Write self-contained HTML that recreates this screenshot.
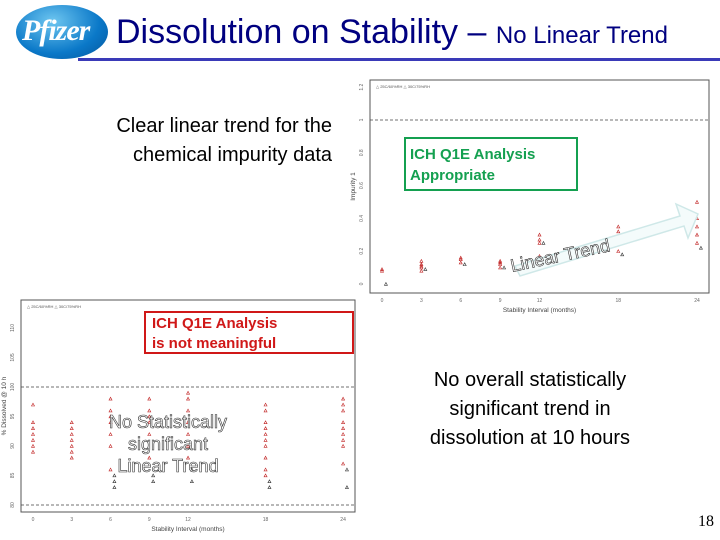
<!DOCTYPE html>
<html><head><meta charset="utf-8"><style>
body{margin:0;width:720px;height:540px;background:#fff;overflow:hidden;font-family:"Liberation Sans",sans-serif;position:relative}
.a{position:absolute}
</style></head><body>
<div class="a" style="left:16px;top:5px;width:92px;height:54px;border-radius:50%;background:radial-gradient(ellipse at 40% 30%,#6ec6f0,#0a78c8 60%,#05559a);"></div>
<div class="a" style="left:22px;top:14px;color:#fff;font:italic bold 30px 'Liberation Serif',serif;letter-spacing:-1px">Pfizer</div>
<div class="a" style="left:116px;top:12px;color:#000080;font-size:34px;white-space:nowrap;line-height:40px">Dissolution on Stability – <span style="font-size:24px">No Linear Trend</span></div>
<div class="a" style="left:78px;top:58px;width:642px;height:3px;background:#3a3ab8"></div>
<div class="a" style="left:40px;top:112px;width:292px;text-align:right;font-size:20px;line-height:29px;color:#000">Clear linear trend for the chemical impurity data</div>
<div class="a" style="left:400px;top:366px;width:260px;text-align:center;font-size:20px;line-height:29px;color:#000">No overall statistically significant trend in dissolution at 10 hours</div>
<div class="a" style="left:698px;top:513px;font:16px 'Liberation Serif',serif">18</div>
<svg class="a" style="left:0;top:0" width="720" height="540" id="svg"></svg>
<script>
const months=[0,3,6,9,12,18,24];
const impTicks=[0,0.2,0.4,0.6,0.8,1.0,1.2];
const impRed=[[0.08,0.09],[0.08,0.1,0.11,0.12,0.14],[0.13,0.15,0.16],[0.1,0.12,0.13,0.14],[0.17,0.25,0.27,0.3],[0.2,0.25,0.28,0.32,0.35],[0.25,0.3,0.35,0.4,0.5]];
const impBlack=[[0],[0.09],[0.12],[0.1],[0.25],[0.18],[0.22]];
const disTicks=[80,85,90,95,100,105,110];
const disRed=[[97,94,93,92,91,90,89],[94,93,92,91,90,89,88],[98,96,95,94,92,90,86],[98,96,95,94,92,88],[99,98,96,94,92,90,88],[97,96,94,93,92,91,90,88,86,85],[98,97,96,94,93,92,91,90,87]];
const disBlack=[[],[],[83,84,85],[84,85],[86,84],[84,83],[83,86]];
const NS='http://www.w3.org/2000/svg',svg=document.getElementById('svg');
function mk(t,a,txt){const e=document.createElementNS(NS,t);for(const k in a)e.setAttribute(k,a[k]);if(txt!=null)e.textContent=txt;svg.appendChild(e);return e;}
function chart(box,x0,xm,y0,y1,v0,v1,ticks,red,black,ylab,dashed,nm){
 const X=m=>x0+m*xm, Y=v=>y0+(v-v0)/(v1-v0)*(y1-y0);
 let e=mk('rect',{x:box[0],y:box[1],width:box[2],height:box[3],fill:'none',stroke:'#555','stroke-width':1});
 
 ticks.forEach(t=>{e=mk('text',{x:box[0]-7,y:Y(t),'font-size':5,fill:'#666','text-anchor':'middle',transform:`rotate(-90 ${box[0]-7} ${Y(t)})`},String(t));
 });
 months.forEach(m=>{e=mk('text',{x:X(m),y:box[1]+box[3]+9,'font-size':5,fill:'#666','text-anchor':'middle'},String(m));
 });
 dashed.forEach(d=>{e=mk('line',{x1:box[0],x2:box[0]+box[2],y1:Y(d),y2:Y(d),stroke:'#444','stroke-dasharray':'3,2','stroke-width':0.8});
 });
 const tri=(m,v,c)=>{const x=X(m),y=Y(v);e=mk('path',{d:`M${x-1.5} ${y+1.3}L${x+1.5} ${y+1.3}L${x} ${y-1.5}Z`,fill:'none',stroke:c,'stroke-width':0.6});
 };
 red.forEach((a,i)=>a.forEach(v=>tri(months[i],v,'#c02020')));
 black.forEach((a,i)=>a.forEach(v=>tri(months[i]+0.3,v,'#333')));
 e=mk('text',{x:box[0]+box[2]/2,y:box[1]+box[3]+19,'font-size':6.5,fill:'#444','text-anchor':'middle'},'Stability Interval (months)');
 
 e=mk('text',{x:box[0]-15,y:box[1]+box[3]/2,'font-size':6.5,fill:'#444','text-anchor':'middle',transform:`rotate(-90 ${box[0]-15} ${box[1]+box[3]/2})`},ylab);
 
 e=mk('text',{x:box[0]+6,y:box[1]+8,'font-size':4,fill:'#555'},'△ 25C/60%RH  △ 30C/75%RH');
 
}
chart([370,80,339,213],382,13.125,284,120,0,1.0,impTicks,impRed,impBlack,'Impurity 1',[1.0],'impurity');
chart([21,300,334,212],33,12.92,505,387,80,100,disTicks,disRed,disBlack,'% Dissolved @ 10 h',[100,80],'dissolution');
let e=mk('path',{d:'M515 266 L680 216 L676 204 L698 214 L688 238 L684 226 L520 276 Z',fill:'#f4fbfb',stroke:'#cfe8e8','stroke-width':1.5});

e=mk('text',{x:512,y:272,'font-size':18,fill:'#fff',stroke:'#333','stroke-width':0.6,transform:'rotate(-12 512 272)'},'Linear Trend');

[['No  Statistically',428],['significant',450],['Linear Trend',472]].forEach(([t,y])=>{e=mk('text',{x:168,y:y,'font-size':18,fill:'#fff',stroke:'#333','stroke-width':0.6,'text-anchor':'middle'},t);
});
</script>
<div class="a" style="left:404px;top:137px;width:174px;height:54px;border:2px solid #14a050;background:#fff;color:#14a050;font-weight:bold;font-size:15px;line-height:21px;padding:5px 0 0 4px;box-sizing:border-box;white-space:nowrap">ICH Q1E Analysis<br>Appropriate</div>
<div class="a" style="left:144px;top:311px;width:210px;height:43px;border:2px solid #d01818;background:#fff;color:#d01818;font-weight:bold;font-size:15px;line-height:20px;padding:1px 0 0 6px;box-sizing:border-box;white-space:nowrap">ICH Q1E Analysis<br>is not meaningful</div>
</body></html>
